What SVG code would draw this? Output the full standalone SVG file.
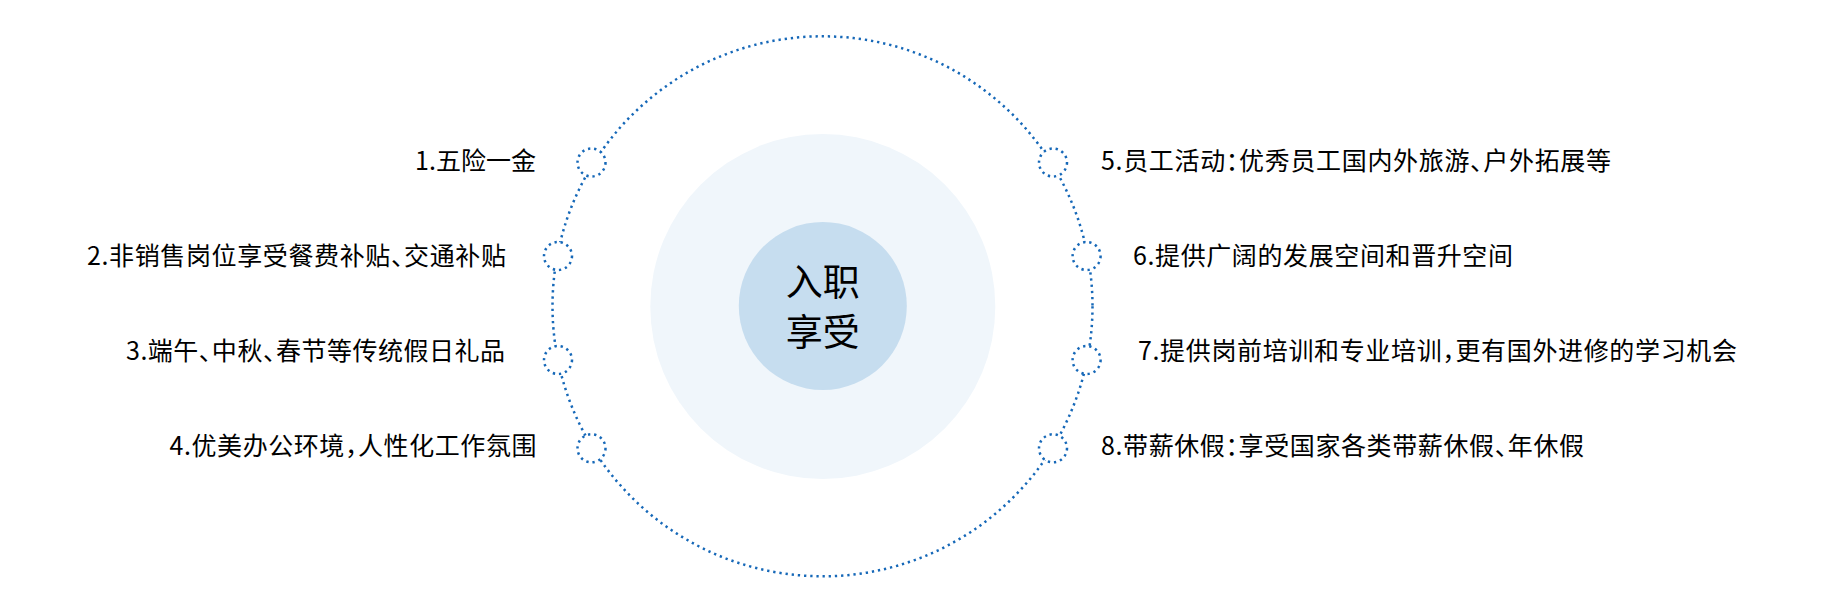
<svg xmlns="http://www.w3.org/2000/svg" width="1827" height="608" viewBox="0 0 1827 608">
  <style>
    .dot { fill: none; stroke: #1668b8; stroke-width: 2.5; stroke-dasharray: 2.3 3.9; }
    .knob { fill: #ffffff; stroke: #1668b8; stroke-width: 2.5; stroke-dasharray: 2.3 3.9; }
    .lbl { font-family: "Noto Sans CJK SC", "Noto Sans", sans-serif; font-size: 25px; fill: #000000; font-feature-settings: "halt"; }
    .ctr { font-family: "Noto Sans CJK SC", "Noto Sans", sans-serif; font-size: 37px; fill: #000000; text-anchor: middle; }
  </style>
  <rect width="1827" height="608" fill="#ffffff"/>
  <g id="halo">
    <circle cx="822.8" cy="306.5" r="172.5" fill="#f0f6fb"/>
  </g>
  <g id="connectors">
    <circle class="dot" cx="822.5" cy="306.3" r="270"/>
  </g>
  <g id="center">
    <circle cx="822.8" cy="306" r="84" fill="#c6ddef"/>
    <text class="ctr" x="822.8" y="296">入职</text>
    <text class="ctr" x="822.8" y="346">享受</text>
  </g>
  <g id="item1">
    <circle class="knob" cx="591.5" cy="162.5" r="14"/>
    <text class="lbl" x="536" y="170" text-anchor="end" textLength="121">1.五险一金</text>
  </g>
  <g id="item2">
    <circle class="knob" cx="558" cy="256" r="14"/>
    <text class="lbl" x="506" y="265" text-anchor="end" textLength="419">2.非销售岗位享受餐费补贴、交通补贴</text>
  </g>
  <g id="item3">
    <circle class="knob" cx="558" cy="360" r="14"/>
    <text class="lbl" x="505" y="360" text-anchor="end" textLength="379">3.端午、中秋、春节等传统假日礼品</text>
  </g>
  <g id="item4">
    <circle class="knob" cx="591.5" cy="448.3" r="14"/>
    <text class="lbl" x="536.5" y="455" text-anchor="end" textLength="367">4.优美办公环境，人性化工作氛围</text>
  </g>
  <g id="item5">
    <circle class="knob" cx="1053" cy="162.5" r="14"/>
    <text class="lbl" x="1101" y="170" textLength="510">5.员工活动：优秀员工国内外旅游、户外拓展等</text>
  </g>
  <g id="item6">
    <circle class="knob" cx="1086.6" cy="256" r="14"/>
    <text class="lbl" x="1133" y="265" textLength="380">6.提供广阔的发展空间和晋升空间</text>
  </g>
  <g id="item7">
    <circle class="knob" cx="1086.6" cy="360" r="14"/>
    <text class="lbl" x="1138" y="360" textLength="599">7.提供岗前培训和专业培训，更有国外进修的学习机会</text>
  </g>
  <g id="item8">
    <circle class="knob" cx="1053" cy="448.3" r="14"/>
    <text class="lbl" x="1101" y="455" textLength="483">8.带薪休假：享受国家各类带薪休假、年休假</text>
  </g>
</svg>
